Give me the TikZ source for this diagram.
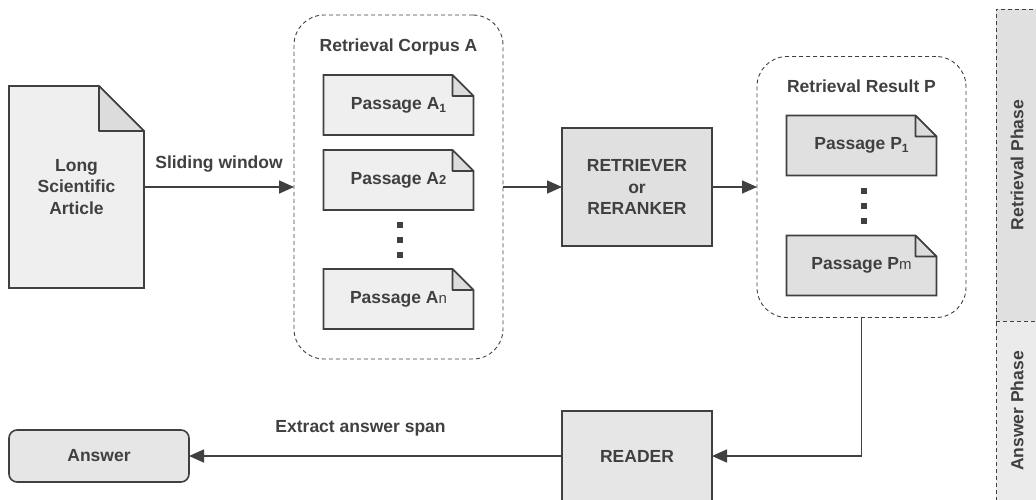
\documentclass[tikz,border=0pt]{standalone}
\usepackage{fontspec}
\setmainfont{Liberation Sans}
\usepackage{tikz}
\usetikzlibrary{positioning, arrows.meta, backgrounds, calc}

\definecolor{ink}{HTML}{404040}
\definecolor{paper}{HTML}{EFEFEF}
\definecolor{foldgray}{HTML}{DCDCDC}
\definecolor{boxgray}{HTML}{E0E0E0}
\definecolor{readgray}{HTML}{E6E6E6}
\definecolor{retgray}{HTML}{E0E0E0}
\definecolor{ansgray}{HTML}{EBEBEB}

% index after a passage name: lowered digit or small letter
\newcommand{\lowidx}[1]{{\fontsize{12pt}{12pt}\selectfont\raisebox{-3pt}{#1}}}
\newcommand{\tailidx}[1]{{\fontsize{13pt}{13pt}\selectfont #1}}
\newcommand{\thinidx}[1]{{\fontsize{15pt}{15pt}\selectfont\mdseries #1}}

% sheet with a folded top right corner, drawn behind node #1
\newcommand{\dogear}[3]{%
  \begin{pgfonlayer}{background}
    \filldraw[line, fill=#3] (#1.north west) -- ([xshift=-#2]#1.north east)
      -- ([yshift=-#2]#1.north east) -- (#1.south east) -- (#1.south west) -- cycle;
    \filldraw[line, fill=foldgray, line join=round] ([xshift=-#2]#1.north east)
      |- ([yshift=-#2]#1.north east) -- cycle;
  \end{pgfonlayer}}

\tikzset{
  every node/.style={font=\fontsize{17.5pt}{21.5pt}\selectfont\bfseries, text=ink},
  line/.style={draw=ink, line width=1.6pt},
  arr/.style={line, -{Triangle[length=15pt, width=13pt]}},
  sheet/.style={minimum width=150pt, minimum height=60pt, inner sep=0pt, outer sep=0pt},
  block/.style={line, minimum width=150pt, align=center, outer sep=0pt},
  group/.style={draw=ink, line width=0.9pt, dash pattern=on 4pt off 3pt,
    rounded corners=30pt, minimum width=209pt, outer sep=0pt},
  sqdot/.style={fill=ink, minimum size=6pt, inner sep=0pt},
  phase/.style={rotate=90},
}

\begin{document}
\begin{tikzpicture}
  \useasboundingbox (0,0) rectangle (1036pt,-499pt);
  \clip (0,0) rectangle (1036pt,-499pt);

  % input article
  \node[sheet, minimum width=135pt, minimum height=202pt, align=center]
    (article) at (76.5pt,-187pt) {Long\\Scientific\\Article};
  \dogear{article}{45pt}{paper}

  % corpus of passages
  \node[group, minimum height=344pt, right=150pt of article] (corpus) {};
  \node[below=20pt of corpus.north] (corpustitle) {Retrieval Corpus A};
  \node[sheet, below=60pt of corpus.north] (A1) {Passage A\lowidx{1}};
  \node[sheet, below=15pt of A1] (A2) {Passage A\tailidx{2}};
  \node[sheet, below=59pt of A2] (An) {Passage A\thinidx{n}};
  \dogear{A1}{21pt}{paper}
  \dogear{A2}{21pt}{paper}
  \dogear{An}{21pt}{paper}
  \foreach \k/\d in {1/15, 2/0, 3/-15}
    \node[sqdot] (adot\k) at ($(A2.south)!0.5!(An.north) + (1.5pt,\d pt)$) {};

  \node[block, fill=boxgray, minimum height=118pt, right=59pt of corpus]
    (retriever) {RETRIEVER\\or\\RERANKER};

  % retrieved passages
  \node[group, minimum height=261pt, right=45pt of retriever] (result) {};
  \node[below=19.5pt of result.north] (resulttitle) {Retrieval Result P};
  \node[sheet, below=59pt of result.north] (P1) {Passage P\lowidx{1}};
  \node[sheet, below=60pt of P1] (Pm) {Passage P\thinidx{m}};
  \dogear{P1}{21pt}{boxgray}
  \dogear{Pm}{21pt}{boxgray}
  \foreach \k/\d in {1/15, 2/0, 3/-15}
    \node[sqdot] (pdot\k) at ($(P1.south)!0.5!(Pm.north) + (2pt,\d pt)$) {};

  \node[block, fill=readgray, minimum height=90pt, below=165pt of retriever]
    (reader) {READER};
  \node[block, fill=readgray, rounded corners=8pt, minimum width=180pt,
    minimum height=52pt, left=373pt of reader] (answer) {Answer};

  \draw[arr] (article) -- node[above=11pt] (slide) {Sliding window} (corpus);
  \draw[arr] (corpus) -- (retriever);
  \draw[arr] (retriever) -- (result);
  \draw[arr] (result.south) |- (reader);
  \draw[arr] (reader) -- node[above=16pt, pos=0.54] (extract) {Extract answer span} (answer);

  % phase bands on the right
  \fill[retgray] (996pt,-9pt) rectangle (1040pt,-321pt);
  \fill[ansgray] (996pt,-321pt) rectangle (1040pt,-505pt);
  \draw[draw=ink, line width=0.9pt, dash pattern=on 4pt off 3pt]
    (1040pt,-9pt) -- (996pt,-9pt) -- (996pt,-505pt)
    (996pt,-321pt) -- (1040pt,-321pt);
  \node[phase] (retphase) at (1017pt,-165pt) {Retrieval Phase};
  \node[phase] (ansphase) at (1017pt,-411pt) {Answer Phase};
\end{tikzpicture}
\end{document}
